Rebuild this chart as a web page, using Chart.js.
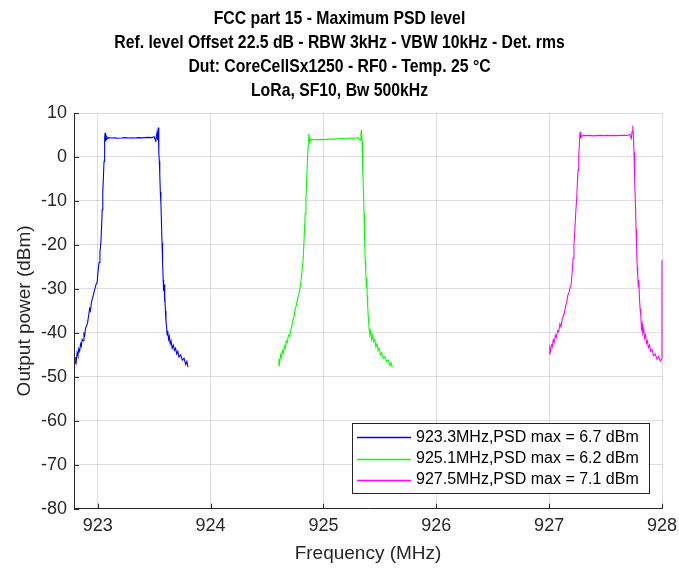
<!DOCTYPE html>
<html>
<head>
<meta charset="utf-8">
<title>FCC part 15 - Maximum PSD level</title>
<script src="https://cdn.jsdelivr.net/npm/chart.js@4.4.1/dist/chart.umd.min.js"></script>
<style>
  html, body { margin: 0; padding: 0; background: #fff; }
  #wrap { width: 679px; height: 568px; }
</style>
</head>
<body>
<div id="wrap"><canvas id="psd" width="679" height="568"></canvas></div>
<script>
// values
const titleLines = [
  'FCC part 15 - Maximum PSD level',
  'Ref. level Offset 22.5 dB - RBW 3kHz - VBW 10kHz - Det. rms',
  'Dut: CoreCellSx1250 - RF0 - Temp. 25 °C',
  'LoRa, SF10, Bw 500kHz'
];
const xTicks = [923, 924, 925, 926, 927, 928];
const yTicks = [-80, -70, -60, -50, -40, -30, -20, -10, 0, 10];
const seriesLabels = [
  '923.3MHz,PSD max = 6.7 dBm',
  '925.1MHz,PSD max = 6.2 dBm',
  '927.5MHz,PSD max = 7.1 dBm'
];

// 923.3 MHz channel
const freq1 = [922.800, 922.805, 922.810, 922.818, 922.825, 922.832, 922.840, 922.848, 922.855, 922.862,
  922.870, 922.878, 922.885, 922.892, 922.900, 922.910, 922.920, 922.928, 922.935, 922.945,
  922.955, 922.965, 922.975, 922.985, 922.995, 923.005, 923.012, 923.020, 923.028, 923.035,
  923.040, 923.045, 923.050, 923.056, 923.060, 923.063, 923.066, 923.069, 923.072, 923.076,
  923.080, 923.090, 923.100, 923.120, 923.150, 923.180, 923.210, 923.240, 923.270, 923.300,
  923.330, 923.360, 923.390, 923.420, 923.450, 923.480, 923.500, 923.515, 923.525, 923.532,
  923.537, 923.540, 923.543, 923.546, 923.550, 923.555, 923.560, 923.565, 923.570, 923.575,
  923.580, 923.584, 923.588, 923.592, 923.596, 923.600, 923.605, 923.610, 923.615, 923.620,
  923.628, 923.635, 923.642, 923.650, 923.660, 923.670, 923.680, 923.690, 923.700, 923.710,
  923.720, 923.735, 923.750, 923.765, 923.780, 923.790, 923.800];
const psd1 = [-47.0, -45.5, -46.5, -44.5, -45.2, -43.6, -44.2, -42.5, -43.0, -41.5,
  -41.8, -40.2, -40.6, -39.0, -38.5, -37.8, -36.0, -34.5, -35.0, -33.0,
  -32.0, -31.0, -30.0, -29.0, -28.5, -25.5, -24.0, -21.5, -19.5, -15.5,
  -12.0, -8.0, -5.0, -1.0, 2.0, 4.5, 5.5, 3.5, 4.8, 4.0,
  4.6, 4.2, 4.4, 4.3, 4.35, 4.25, 4.3, 4.4, 4.3, 4.35,
  4.3, 4.4, 4.35, 4.4, 4.45, 4.4, 4.6, 3.6, 5.5, 3.8,
  6.7, 4.0, 1.0, -1.0, -4.0, -8.0, -10.5, -15.0, -19.5, -24.0,
  -28.0, -30.5, -29.0, -33.0, -31.5, -35.0, -37.5, -38.5, -40.5, -39.5,
  -41.5, -40.8, -42.5, -41.8, -43.5, -42.8, -44.0, -43.5, -44.8, -44.2,
  -45.5, -45.0, -46.2, -45.8, -47.2, -46.5, -47.8];

// 925.1 MHz channel
const freq2 = [924.600, 924.606, 924.612, 924.620, 924.628, 924.636, 924.645, 924.654, 924.662, 924.670,
  924.680, 924.690, 924.700, 924.710, 924.720, 924.730, 924.740, 924.750, 924.760, 924.770,
  924.780, 924.790, 924.800, 924.810, 924.820, 924.830, 924.838, 924.845, 924.852, 924.858,
  924.864, 924.870, 924.874, 924.878, 924.882, 924.890, 924.920, 924.950, 924.980, 925.010,
  925.040, 925.070, 925.100, 925.130, 925.160, 925.190, 925.220, 925.250, 925.280, 925.310,
  925.325, 925.332, 925.338, 925.342, 925.346, 925.350, 925.355, 925.360, 925.365, 925.370,
  925.375, 925.380, 925.384, 925.388, 925.392, 925.398, 925.405, 925.412, 925.420, 925.428,
  925.436, 925.445, 925.455, 925.465, 925.475, 925.485, 925.495, 925.505, 925.515, 925.530,
  925.545, 925.560, 925.575, 925.590, 925.600, 925.610];
const psd2 = [-47.5, -46.0, -46.8, -45.0, -45.6, -44.0, -44.6, -43.0, -43.5, -41.8,
  -42.2, -40.5, -40.8, -39.5, -38.5, -37.0, -36.2, -34.5, -33.8, -32.2,
  -31.5, -30.2, -28.5, -26.0, -23.5, -18.0, -13.0, -9.5, -5.0, -1.0,
  2.5, 5.3, 3.2, 4.6, 3.6, 4.0, 3.9, 3.95, 4.0, 3.95,
  4.05, 4.1, 4.05, 4.15, 4.2, 4.15, 4.25, 4.3, 4.25, 4.4,
  3.8, 5.2, 6.2, 3.5, 0.5, -3.0, -8.0, -13.0, -19.0, -23.5,
  -26.0, -29.5, -27.5, -31.5, -34.0, -36.5, -39.0, -40.5, -39.8, -41.5,
  -40.6, -42.0, -41.5, -43.2, -42.5, -44.0, -43.6, -45.0, -44.5, -45.8,
  -45.4, -46.6, -46.2, -47.4, -46.8, -47.8];

// 927.5 MHz channel
const freq3 = [927.000, 927.006, 927.012, 927.020, 927.028, 927.036, 927.045, 927.055, 927.065, 927.075,
  927.085, 927.095, 927.105, 927.115, 927.125, 927.135, 927.145, 927.155, 927.165, 927.175,
  927.185, 927.195, 927.205, 927.212, 927.220, 927.228, 927.236, 927.244, 927.250, 927.256,
  927.262, 927.268, 927.274, 927.278, 927.282, 927.288, 927.300, 927.330, 927.360, 927.390,
  927.420, 927.450, 927.480, 927.510, 927.540, 927.570, 927.600, 927.630, 927.660, 927.690,
  927.715, 927.728, 927.735, 927.742, 927.747, 927.752, 927.756, 927.760, 927.765, 927.770,
  927.775, 927.780, 927.785, 927.790, 927.795, 927.800, 927.806, 927.812, 927.818, 927.824,
  927.830, 927.838, 927.846, 927.854, 927.862, 927.870, 927.880, 927.890, 927.900, 927.912,
  927.925, 927.940, 927.955, 927.970, 927.985, 928.000, 928.000];
const psd3 = [-44.8, -43.5, -44.2, -42.8, -43.2, -41.6, -42.2, -40.5, -41.0, -39.5,
  -39.8, -38.0, -38.6, -37.0, -36.2, -35.5, -34.0, -33.2, -31.5, -31.0,
  -29.8, -29.0, -26.0, -23.0, -20.0, -16.5, -12.5, -9.5, -6.0, -3.0,
  0.0, 3.0, 5.7, 4.2, 5.3, 4.6, 4.9, 4.85, 4.9, 4.8,
  4.85, 4.9, 4.85, 4.9, 4.85, 4.9, 4.85, 4.9, 4.95, 4.9,
  5.1, 4.2, 5.8, 7.1, 4.5, 1.0, -3.0, -5.5, -11.0, -16.5,
  -20.5, -25.0, -27.0, -29.5, -28.0, -32.0, -34.5, -36.0, -39.0, -38.0,
  -40.0, -39.2, -41.2, -40.5, -42.3, -41.8, -43.4, -42.8, -44.2, -43.8,
  -45.2, -44.8, -46.0, -45.4, -46.4, -45.8, -23.5];

const xMin = 922.79, xMax = 928;
const yMin = -80, yMax = 10;

function toPoints(xs, ys) {
  return xs.map((x, i) => ({ x: x, y: ys[i] }));
}

const axisFont = "'Liberation Sans', Arial, Helvetica, sans-serif";
const gridColor = 'rgba(38,38,38,0.15)';
const axisColor = '#262626';

// bold title, squeezed a bit like the exported figure
const squeezedTitle = {
  id: 'squeezedTitle',
  afterDraw(chart) {
    const ctx = chart.ctx;
    const cx = chart.width / 2;
    ctx.save();
    ctx.fillStyle = '#000';
    ctx.font = "bold 19px " + axisFont;
    ctx.textAlign = 'center';
    ctx.textBaseline = 'middle';
    ctx.translate(cx, 0);
    ctx.scale(0.83, 1);
    titleLines.forEach((line, i) => {
      ctx.fillText(line, 0, 19 + i * 24);
    });
    ctx.restore();
  }
};

// MATLAB style: ticks point into the axes
const innerTicks = {
  id: 'innerTicks',
  afterDraw(chart) {
    const ctx = chart.ctx, a = chart.chartArea;
    const xs = chart.scales.x, ys = chart.scales.y;
    ctx.save();
    ctx.strokeStyle = axisColor;
    ctx.lineWidth = 1;
    ctx.beginPath();
    xs.ticks.forEach(t => {
      const px = Math.round(xs.getPixelForValue(t.value)) + 0.5;
      ctx.moveTo(px, a.bottom);
      ctx.lineTo(px, a.bottom - 5);
    });
    ys.ticks.forEach(t => {
      const py = Math.round(ys.getPixelForValue(t.value)) + 0.5;
      ctx.moveTo(a.left, py);
      ctx.lineTo(a.left + 5, py);
    });
    ctx.stroke();
    ctx.restore();
  }
};

// boxed legend in the lower right corner of the axes
const boxLegend = {
  id: 'boxLegend',
  afterDatasetsDraw(chart) {
    const ctx = chart.ctx, a = chart.chartArea;
    const right = a.right - 13, bottom = a.bottom - 16;
    const w = 297, h = 70;
    const left = right - w, top = bottom - h;
    ctx.save();
    ctx.fillStyle = '#fff';
    ctx.fillRect(left, top, w, h);
    ctx.strokeStyle = axisColor;
    ctx.lineWidth = 1;
    ctx.strokeRect(Math.round(left) + 0.5, Math.round(top) + 0.5, w, h);
    ctx.font = "16px " + axisFont;
    ctx.textBaseline = 'middle';
    ctx.textAlign = 'left';
    chart.data.datasets.forEach((ds, i) => {
      const yy = top + 14.5 + i * 21.3;
      ctx.strokeStyle = ds.borderColor;
      ctx.lineWidth = 1.3;
      ctx.beginPath();
      ctx.moveTo(left + 5, Math.round(yy) + 0.5);
      ctx.lineTo(left + 59, Math.round(yy) + 0.5);
      ctx.stroke();
      ctx.fillStyle = '#000';
      ctx.fillText(ds.label, left + 64, yy);
    });
    ctx.restore();
  }
};

new Chart(document.getElementById('psd'), {
  type: 'line',
  data: {
    datasets: [
      { label: seriesLabels[0], data: toPoints(freq1, psd1), borderColor: '#0000ff' },
      { label: seriesLabels[1], data: toPoints(freq2, psd2), borderColor: '#00ff00' },
      { label: seriesLabels[2], data: toPoints(freq3, psd3), borderColor: '#ff00ff',
        clip: { left: 0, top: 0, right: 1, bottom: 0 } }
    ]
  },
  options: {
    responsive: false,
    animation: false,
    devicePixelRatio: 1,
    layout: { padding: { top: 113, left: 0, right: 0, bottom: 0 } },
    elements: {
      point: { radius: 0 },
      line: { borderWidth: 1.1, tension: 0 }
    },
    plugins: {
      legend: { display: false },
      tooltip: { enabled: false },
      title: { display: false }
    },
    scales: {
      x: {
        type: 'linear',
        min: xMin,
        max: xMax,
        afterFit: s => { s.height = 59.3; s.paddingLeft = 0; s.paddingRight = 17; },
        afterBuildTicks: s => { s.ticks = xTicks.map(v => ({ value: v })); },
        grid: { color: gridColor, drawTicks: false },
        border: { color: axisColor, width: 1 },
        ticks: { color: axisColor, font: { family: axisFont, size: 18 }, padding: 7, maxRotation: 0, autoSkip: false },
        title: { display: true, text: 'Frequency (MHz)', color: axisColor, font: { family: axisFont, size: 19 }, padding: { top: 0, bottom: 3 } }
      },
      y: {
        type: 'linear',
        min: yMin,
        max: yMax,
        afterFit: s => { s.width = 74; s.paddingTop = 0; s.paddingBottom = 0; },
        afterBuildTicks: s => { s.ticks = yTicks.map(v => ({ value: v })); },
        grid: { color: gridColor, drawTicks: false },
        border: { color: axisColor, width: 1 },
        ticks: { color: axisColor, font: { family: axisFont, size: 18 }, padding: 7, autoSkip: false },
        title: { display: true, text: 'Output power (dBm)', color: axisColor, font: { family: axisFont, size: 19 }, padding: { top: 13, bottom: 0 } }
      }
    }
  },
  plugins: [boxLegend, innerTicks, squeezedTitle]
});
</script>
</body>
</html>
